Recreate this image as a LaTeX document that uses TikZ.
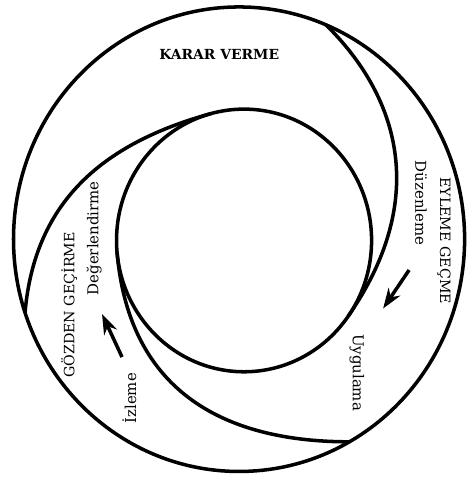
\documentclass[tikz,border=0pt]{standalone}
\usepackage{fontspec}
\setmainfont{DejaVu Serif}
\usetikzlibrary{arrows.meta}

\begin{document}
\begin{tikzpicture}[x=0.02cm, y=0.0206cm, line width=2pt,
    capbold/.style={font=\bfseries\fontsize{7.9}{10}\selectfont, inner sep=0pt},
    caplbl/.style={font=\fontsize{8.1}{10}\selectfont, inner sep=0pt},
    sublbl/.style={font=\fontsize{8.5}{10}\selectfont, inner sep=0pt},
    flow/.style={-{Stealth[length=11.5pt, width=8pt]}, line width=2pt}]
    \useasboundingbox (0,0) rectangle (467,465.05);
    % the two rings
    \coordinate (outc) at (239,232.8);
    \coordinate (inc) at (244,231.6);
    \draw (outc) circle [radius=225.5];
    \draw (inc) circle [radius=127.5];
    % spiral arms from the inner ring out to the outer one
    \draw (348.4,158.5) .. controls (430,273.2) and (398,372) .. (326,440.8);
    \draw (211,354.8) .. controls (104.7,326.3) and (34.6,270.8) .. (25,161.2);
    \draw (117,220.5) .. controls (129.2,81) and (229.4,36.1) .. (349.4,36.1);
    % labels
    \node[capbold] (karar) at (219.2,412.4) {KARAR VERME};
    \node[caplbl, rotate=-90] (eyleme) at (444,231.4) {EYLEME GEÇME};
    \node[caplbl, rotate=90] (gozden) at (69.2,168.9) {GÖZDEN GEÇİRME};
    \node[sublbl, rotate=-90] (duzen) at (421,267.7) {Düzenleme};
    \node[sublbl, rotate=-90] (uygula) at (356.7,103.4) {Uygulama};
    \node[sublbl, rotate=90] (degerlen) at (94.2,233.7) {Değerlendirme};
    \node[sublbl, rotate=90] (izle) at (129.2,78.3) {İzleme};
    % direction arrows
    \coordinate (r1) at (409,202.9);
    \coordinate (r2) at (383,165.5);
    \coordinate (l1) at (122,118.4);
    \coordinate (l2) at (102,160.2);
    \draw[flow] (r1) -- (r2);
    \draw[flow] (l1) -- (l2);
\end{tikzpicture}
\end{document}
